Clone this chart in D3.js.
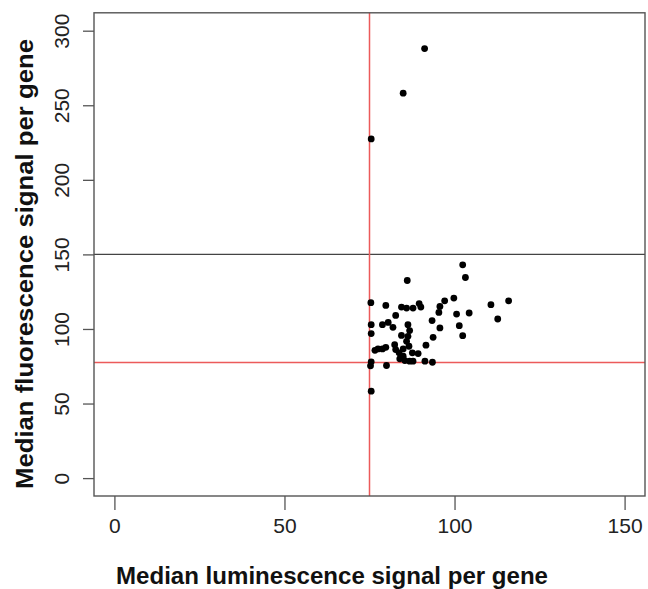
<!DOCTYPE html>
<html>
<head>
<meta charset="utf-8">
<script src="https://cdn.jsdelivr.net/npm/d3@7"></script>
<style>
  html, body { margin: 0; padding: 0; background: #fff; }
  svg { display: block; font-family: 'Liberation Sans', Arial, sans-serif; }
</style>
</head>
<body>
<svg id="chart" width="648" height="589"></svg>
<script>
// median luminescence (x) and fluorescence (y) per gene
const luminescence = [
  84.9, 91.2, 75.5,
  102.4, 103.2, 86.1,
  75.4, 79.8, 84.4, 85.9, 87.8, 89.6, 90.1, 82.7,
  97.1, 99.8, 95.7, 95.4, 100.6, 104.3, 110.7, 112.7, 115.9,
  93.4, 101.4, 95.7, 102.4, 93.7, 91.6,
  75.5, 78.8, 80.5, 81.9, 86.3, 86.8, 75.5, 84.4, 86.3, 85.9,
  76.6, 77.5, 78.8, 79.8, 82.4, 82.7, 84.9, 86.6,
  83.7, 84.9, 87.6, 89.3,
  83.9, 85.4, 86.8, 87.8, 91.3, 93.5,
  75.5, 75.3, 80.0, 75.5
]
const fluorescence = [
  258.1, 288.0, 227.4,
  143.0, 134.5, 132.5,
  117.6, 115.8, 114.7, 114.0, 114.0, 117.0, 114.7, 109.1,
  118.9, 120.7, 115.1, 111.1, 110.0, 110.7, 116.3, 106.7, 118.9,
  105.6, 102.2, 100.7, 95.5, 94.4, 89.1,
  102.9, 102.9, 104.4, 101.1, 102.9, 98.9, 96.9, 95.7, 95.1, 91.7,
  85.7, 86.6, 86.6, 87.7, 89.5, 86.2, 86.6, 88.4,
  84.0, 81.7, 84.0, 83.5,
  80.0, 78.8, 78.4, 78.4, 78.4, 77.7,
  78.0, 75.3, 75.5, 58.3
]
const xTicks = [0, 50, 100, 150]
const yTicks = [0, 50, 100, 150, 200, 250, 300]
const xCutoff = 75
const yCutoff = 77.5
const yUpper = 150

const svg = d3.select('#chart')

const box = { left: 94, right: 645, top: 12.8, bottom: 496 }

const xScale = d3.scaleLinear()
  .domain([-6, 156])
  .range([box.left, box.right])

const yScale = d3.scaleLinear()
  .domain([-12, 312])
  .range([box.bottom, box.top])

const xAxis = d3.axisBottom(xScale)
  .tickValues(xTicks)
  .tickSize(14)
  .tickSizeOuter(0)

const yAxis = d3.axisLeft(yScale)
  .tickValues(yTicks)
  .tickSize(11)
  .tickSizeOuter(0)

function customXAxis (g) {
  g.call(xAxis)
  g.select('.domain').remove()
  g.selectAll('.tick line').style('stroke', '#555').style('stroke-width', 1.3)
  g.selectAll('.tick text')
    .attr('y', 37)
    .attr('dy', 0)
    .style('font-size', '21px')
    .style('font-family', "'Liberation Sans', Arial, sans-serif")
    .style('fill', '#222')
}

function customYAxis (g) {
  g.call(yAxis)
  g.select('.domain').remove()
  g.selectAll('.tick line').style('stroke', '#555').style('stroke-width', 1.3)
  g.selectAll('.tick text')
    .attr('x', null)
    .attr('dy', null)
    .attr('transform', 'translate(-25,0) rotate(-90)')
    .attr('text-anchor', 'middle')
    .style('font-size', '21px')
    .style('font-family', "'Liberation Sans', Arial, sans-serif")
    .style('fill', '#222')
}

svg.append('g')
  .attr('transform', `translate(0, ${box.bottom})`)
  .call(customXAxis)

svg.append('g')
  .attr('transform', `translate(${box.left}, 0)`)
  .call(customYAxis)

// reference lines
svg.append('line')
  .attr('x1', box.left).attr('x2', box.right)
  .attr('y1', yScale(yUpper)).attr('y2', yScale(yUpper))
  .style('stroke', '#444').style('stroke-width', 1.4)

svg.append('line')
  .attr('x1', box.left).attr('x2', box.right)
  .attr('y1', yScale(yCutoff)).attr('y2', yScale(yCutoff))
  .style('stroke', '#ec5a5a').style('stroke-width', 1.5)

svg.append('line')
  .attr('x1', xScale(xCutoff)).attr('x2', xScale(xCutoff))
  .attr('y1', box.top).attr('y2', box.bottom)
  .style('stroke', '#ec5a5a').style('stroke-width', 1.5)

// points
svg.append('g')
  .selectAll('circle')
  .data(luminescence)
  .join('circle')
  .attr('cx', d => xScale(d))
  .attr('cy', (d, i) => yScale(fluorescence[i]))
  .attr('r', 3.4)
  .style('fill', '#000')

// plot frame
svg.append('rect')
  .attr('x', box.left).attr('y', box.top)
  .attr('width', box.right - box.left)
  .attr('height', box.bottom - box.top)
  .style('fill', 'none')
  .style('stroke', '#555')
  .style('stroke-width', 1.4)

// titles
svg.append('text')
  .attr('x', 332)
  .attr('y', 584)
  .attr('text-anchor', 'middle')
  .attr('textLength', 432)
  .attr('lengthAdjust', 'spacingAndGlyphs')
  .style('font-size', '23px')
  .style('font-weight', 'bold')
  .style('fill', '#111')
  .text('Median luminescence signal per gene')

svg.append('text')
  .attr('transform', 'translate(33, 264) rotate(-90)')
  .attr('text-anchor', 'middle')
  .attr('textLength', 450)
  .attr('lengthAdjust', 'spacingAndGlyphs')
  .style('font-size', '23px')
  .style('font-weight', 'bold')
  .style('fill', '#111')
  .text('Median fluorescence signal per gene')
</script>
</body>
</html>
